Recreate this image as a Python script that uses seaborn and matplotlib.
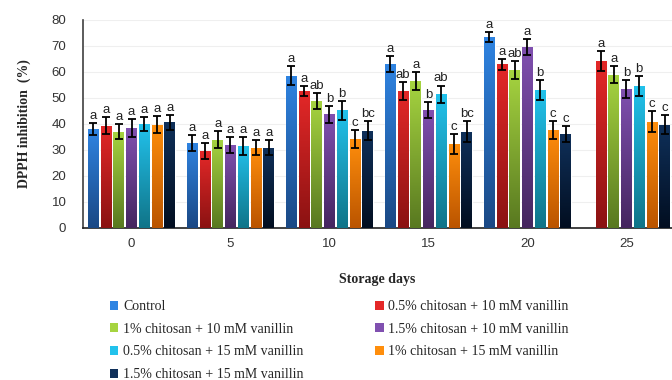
import numpy as np
import pandas as pd
import matplotlib
matplotlib.use("Agg")
import matplotlib.pyplot as plt
from matplotlib.patches import Patch
from matplotlib.colors import LinearSegmentedColormap
import seaborn as sns

# ---- data -------------------------------------------------------------
days = ["0", "5", "10", "15", "20", "25"]
treatments = [
    "Control",
    "0.5% chitosan + 10 mM vanillin",
    "1% chitosan + 10 mM vanillin",
    "1.5% chitosan + 10 mM vanillin",
    "0.5% chitosan + 15 mM vanillin",
    "1% chitosan + 15 mM vanillin",
    "1.5% chitosan + 15 mM vanillin",
]
# mean DPPH inhibition (%) per treatment, one value per storage day
control = [38.0, 32.8, 58.6, 63.2, 73.4, np.nan]
ch05_v10 = [39.3, 29.6, 52.6, 52.8, 62.9, 64.2]
ch10_v10 = [37.1, 33.9, 48.9, 56.5, 60.7, 58.9]
ch15_v10 = [38.4, 31.9, 43.8, 45.5, 69.6, 53.6]
ch05_v15 = [40.0, 31.6, 45.2, 51.4, 53.1, 54.7]
ch10_v15 = [39.8, 30.9, 34.2, 32.4, 37.8, 40.9]
ch15_v15 = [40.6, 30.9, 37.5, 37.1, 36.2, 39.8]

# standard deviations
control_err = [2.4, 3.0, 3.6, 3.1, 1.8, np.nan]
ch05_v10_err = [3.3, 3.0, 2.0, 3.5, 2.1, 4.0]
ch10_v10_err = [3.0, 3.3, 3.1, 3.5, 3.4, 3.3]
ch15_v10_err = [3.5, 3.1, 3.3, 3.1, 3.2, 3.5]
ch05_v15_err = [2.7, 3.5, 3.8, 3.4, 3.7, 3.8]
ch10_v15_err = [3.3, 3.0, 3.5, 3.8, 3.5, 4.0]
ch15_v15_err = [3.0, 3.0, 3.5, 3.9, 3.0, 3.7]

# significance letters
control_sig = ["a", "a", "a", "a", "a", ""]
ch05_v10_sig = ["a", "a", "a", "ab", "a", "a"]
ch10_v10_sig = ["a", "a", "ab", "a", "ab", "a"]
ch15_v10_sig = ["a", "a", "b", "b", "a", "b"]
ch05_v15_sig = ["a", "a", "b", "ab", "b", "b"]
ch10_v15_sig = ["a", "a", "c", "c", "c", "c"]
ch15_v15_sig = ["a", "a", "bc", "bc", "c", "c"]

values = [control, ch05_v10, ch10_v10, ch15_v10, ch05_v15, ch10_v15, ch15_v15]
errors = [control_err, ch05_v10_err, ch10_v10_err, ch15_v10_err,
          ch05_v15_err, ch10_v15_err, ch15_v15_err]
letters = [control_sig, ch05_v10_sig, ch10_v10_sig, ch15_v10_sig,
           ch05_v15_sig, ch10_v15_sig, ch15_v15_sig]

# (top, bottom) shades for each treatment's gradient fill
shades = [
    ("#2F84E2", "#1A4884"),
    ("#E42828", "#8A1212"),
    ("#A6D440", "#587820"),
    ("#8050B0", "#45265F"),
    ("#22C2EC", "#107488"),
    ("#FF8E0C", "#BA5400"),
    ("#0F305A", "#020E20"),
]

rows = []
for t, vals in zip(treatments, values):
    for d, v in zip(days, vals):
        if not np.isnan(v):
            rows.append({"day": d, "treatment": t, "value": v})
df = pd.DataFrame(rows)

# ---- figure -----------------------------------------------------------
sns.set_theme(style="white")
plt.rcParams["font.family"] = ["Liberation Sans", "DejaVu Sans"]

fig = plt.figure(figsize=(6.72, 3.80), dpi=100)
ax = fig.add_axes([83 / 672, 1 - 228 / 380, 1 - 83 / 672, (228 - 20) / 380])

mid_colors = [s[0] for s in shades]
sns.barplot(data=df, x="day", y="value", hue="treatment", order=days,
            hue_order=treatments, palette=mid_colors, width=0.9, gap=0.15,
            errorbar=None, legend=False, ax=ax, zorder=2)

ax.set_ylim(0, 80)
ax.set_xlim(-0.49, 5.46)

# gradient fill, error bars and letters for every bar
bar_groups = list(ax.containers)
for ti, cont in enumerate(bar_groups):
    cmap = LinearSegmentedColormap.from_list(f"g{ti}", [shades[ti][1], shades[ti][0]])
    grad = np.linspace(0, 1, 256).reshape(-1, 1)
    for bar in cont:
        h = bar.get_height()
        if not np.isfinite(h):
            continue
        x0 = bar.get_x()
        w = bar.get_width()
        ci = int(round(x0 + w / 2))
        im = ax.imshow(grad, cmap=cmap, origin="lower", aspect="auto",
                       extent=(x0, x0 + w, 0, h), zorder=3)
        im.set_clip_path(bar)
        err = errors[ti][ci]
        ax.errorbar(x0 + w / 2, h, yerr=err, color="black", capsize=3.2,
                    elinewidth=1.3, capthick=1.3, zorder=4)
        ax.text(x0 + w / 2, h + err + 0.4, letters[ti][ci], ha="center",
                va="bottom", fontsize=9.5, color="#222222",
                family=["Liberation Sans", "DejaVu Sans"], zorder=5)

ax.set_ylim(0, 80)
ax.set_xlim(-0.49, 5.46)
ax.set_yticks(range(0, 81, 10))
ax.yaxis.grid(True, color="#EFEFEF", linewidth=0.8, zorder=0)
ax.set_axisbelow(True)

for side in ["top", "right"]:
    ax.spines[side].set_visible(False)
ax.spines["left"].set_color("#404040")
ax.spines["bottom"].set_color("#202020")
ax.spines["left"].set_linewidth(1.2)
ax.spines["bottom"].set_linewidth(1.2)
ax.tick_params(axis="both", length=0, labelsize=9.5, colors="#333333")
ax.tick_params(axis="y", pad=12)
ax.tick_params(axis="x", pad=7)

serif = ["Liberation Serif", "DejaVu Serif"]
ax.set_xlabel("Storage days", fontsize=10, fontweight="bold", family=serif,
              labelpad=17)
ax.set_ylabel("DPPH inhibition  (%)", fontsize=10, fontweight="bold",
              family=serif, labelpad=15)

# legend: two columns, filled row by row
handles = [Patch(facecolor=s[0], edgecolor="none") for s in shades]
order = [0, 2, 4, 6, 1, 3, 5]
fig.legend([handles[i] for i in order], [treatments[i] for i in order],
           loc="upper left", bbox_to_anchor=(110 / 672, 1 - 300 / 380),
           ncol=2, frameon=False, prop={"family": serif, "size": 10},
           handlelength=0.6, handleheight=0.6, handletextpad=0.35,
           columnspacing=5.15, labelspacing=0.7, borderaxespad=0,
           borderpad=0)

fig.savefig("out.png", dpi=100)
